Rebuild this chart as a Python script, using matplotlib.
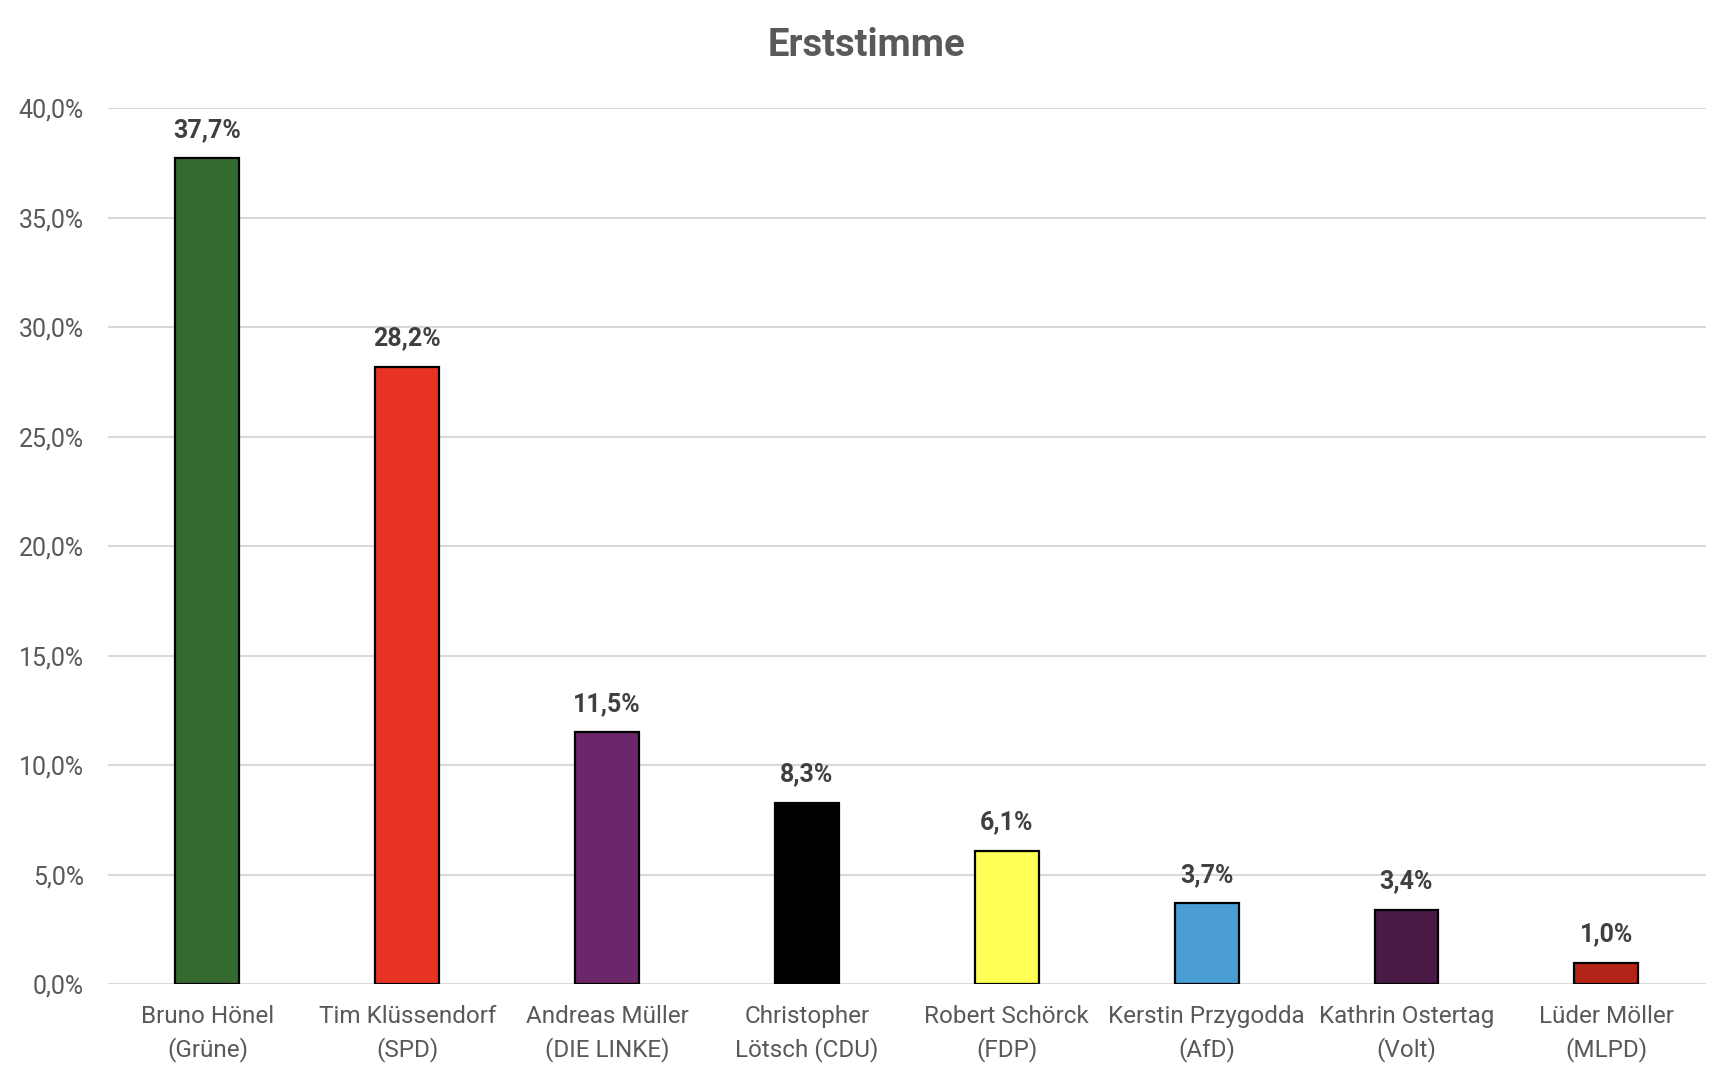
import matplotlib.pyplot as plt
import numpy as np
from matplotlib.ticker import FuncFormatter

kandidaten = ['Bruno Hönel\n(Grüne)', 'Tim Klüssendorf\n(SPD)', 'Andreas Müller\n(DIE LINKE)',
              'Christopher\nLötsch (CDU)', 'Robert Schörck\n(FDP)', 'Kerstin Przygodda\n(AfD)',
              'Kathrin Ostertag\n(Volt)', 'Lüder Möller\n(MLPD)']
anteile = [37.7, 28.2, 11.5, 8.3, 6.1, 3.7, 3.4, 1.0]
farben = ['#356A2F', '#E83323', '#6B2769', '#000000', '#FFFF55', '#4A9DD3', '#481A45', '#B22418']
y_ticks = [0, 5, 10, 15, 20, 25, 30, 35, 40]

plt.rcParams['font.family'] = ['Roboto', 'DejaVu Sans']

fig = plt.figure(figsize=(17.34, 10.86), dpi=100)
ax = fig.add_axes([0.062, 0.0935, 0.922, 0.807])

x = np.arange(len(kandidaten))
ax.bar(x, anteile, width=0.32, color=farben, edgecolor='black', linewidth=1.6, zorder=3)

for xi, v in zip(x, anteile):
    ax.annotate(f'{v:.1f}%'.replace('.', ','), (xi, v), xytext=(0, 12), textcoords='offset points',
                ha='center', va='bottom', fontsize=18, fontweight='bold', color='#404040')

ax.set_xlim(-0.5, len(kandidaten) - 0.5)
ax.set_ylim(0, 40)
ax.set_yticks(y_ticks)
ax.yaxis.set_major_formatter(FuncFormatter(lambda v, p: f'{v:.1f}%'.replace('.', ',')))
ax.set_xticks(x)
ax.set_xticklabels(kandidaten, linespacing=1.45)
ax.tick_params(axis='both', length=0, labelsize=17.5, labelcolor='#595959')
ax.tick_params(axis='y', labelsize=18, pad=17)
ax.tick_params(axis='x', pad=15)
ax.grid(axis='y', color='#D9D9D9', linewidth=1.5, zorder=0)
for s in ax.spines.values():
    s.set_visible(False)

fig.suptitle('Erststimme', y=0.975, fontsize=27.5, fontweight='bold', color='#595959')

fig.savefig('out.png', dpi=100)
